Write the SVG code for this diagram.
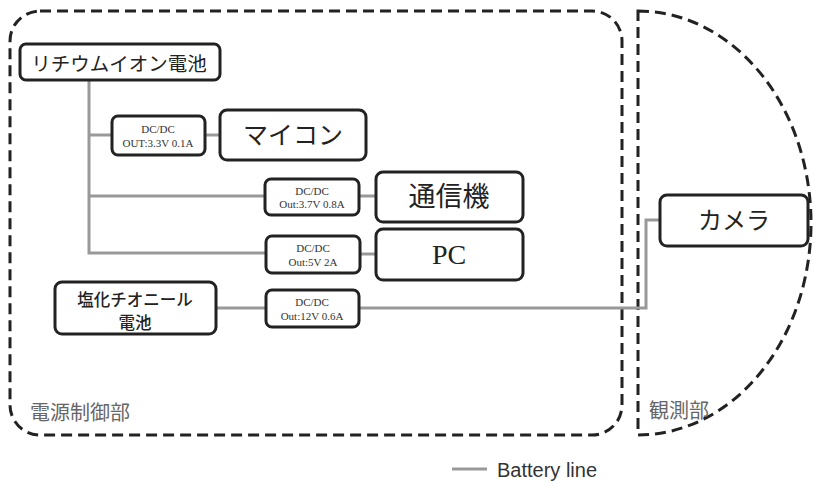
<svg xmlns="http://www.w3.org/2000/svg" width="813" height="482" viewBox="0 0 813 482">
<style>
.box{fill:#fff;stroke:#222;stroke-width:3}
.region{fill:none;stroke:#222;stroke-width:3;stroke-dasharray:11 6}
.wire{fill:none;stroke:#999;stroke-width:3}
.jp{font-family:"Noto Sans CJK JP","Noto Sans",sans-serif;fill:#222;text-anchor:middle}
.dc{font-family:"Liberation Serif",serif;font-size:11px;fill:#333;text-anchor:middle}
.lbl{font-family:"Noto Sans CJK JP",sans-serif;fill:#666;font-size:20px}
</style>
<rect width="813" height="482" fill="#fff"/>
<g id="region-power">
<rect class="region" x="10" y="11" width="612" height="424" rx="30"/>
<text class="lbl" x="30" y="420">電源制御部</text>
</g>
<g id="region-obs">
<path class="region" d="M638,11 A173,212 0 0 1 638,435 Z"/>
<text class="lbl" x="649" y="418" font-size="20">観測部</text>
</g>
<g id="connectors">
<polyline class="wire" points="89,80 89,253 266,253"/>
<line class="wire" x1="89" y1="135" x2="112" y2="135"/>
<line class="wire" x1="89" y1="196" x2="265" y2="196"/>
<line class="wire" x1="205" y1="135" x2="220" y2="135"/>
<line class="wire" x1="359" y1="196" x2="376" y2="196"/>
<line class="wire" x1="360" y1="254" x2="376" y2="254"/>
<line class="wire" x1="216" y1="308" x2="266" y2="308"/>
<polyline class="wire" points="359,308 646,308 646,220 660,220"/>
</g>
<g id="li-battery">
<rect class="box" x="20" y="44" width="200" height="36" rx="6"/>
<text class="jp" x="119" y="71" font-size="19.5">リチウムイオン電池</text>
</g>
<g id="dcdc1">
<rect class="box" x="112" y="116" width="93" height="39" rx="6"/>
<text class="dc" x="158" y="133">DC/DC</text>
<text class="dc" x="158" y="147">OUT:3.3V 0.1A</text>
</g>
<g id="mcu">
<rect class="box" x="220" y="110" width="146" height="50" rx="7"/>
<text class="jp" x="293" y="144" font-size="25">マイコン</text>
</g>
<g id="dcdc2">
<rect class="box" x="265" y="179" width="94" height="36" rx="6"/>
<text class="dc" x="312" y="195">DC/DC</text>
<text class="dc" x="312" y="208">Out:3.7V 0.8A</text>
</g>
<g id="comm">
<rect class="box" x="376" y="172" width="147" height="50" rx="7"/>
<text class="jp" x="449" y="206" font-size="27">通信機</text>
</g>
<g id="dcdc3">
<rect class="box" x="266" y="236" width="94" height="37" rx="6"/>
<text class="dc" x="313" y="252">DC/DC</text>
<text class="dc" x="313" y="266">Out:5V 2A</text>
</g>
<g id="pc">
<rect class="box" x="376" y="229" width="147" height="51" rx="7"/>
<text x="449" y="264" font-family="Liberation Serif,serif" font-size="28" fill="#222" text-anchor="middle">PC</text>
</g>
<g id="socl2-battery">
<rect class="box" x="55" y="282" width="161" height="52" rx="7"/>
<text class="jp" x="135" y="306" font-size="16.5" font-weight="500">塩化チオニール</text>
<text class="jp" x="135" y="329" font-size="16.5" font-weight="500">電池</text>
</g>
<g id="dcdc4">
<rect class="box" x="266" y="290" width="93" height="37" rx="6"/>
<text class="dc" x="312" y="306">DC/DC</text>
<text class="dc" x="312" y="320">Out:12V 0.6A</text>
</g>
<g id="camera">
<rect class="box" x="660" y="195" width="148" height="51" rx="7"/>
<text class="jp" x="734" y="229" font-size="24">カメラ</text>
</g>
<g id="legend">
<line class="wire" x1="452" y1="469" x2="487" y2="469"/>
<text x="497" y="477" font-family="Liberation Sans,Arial,sans-serif" font-size="20" fill="#333">Battery line</text>
</g>
</svg>
